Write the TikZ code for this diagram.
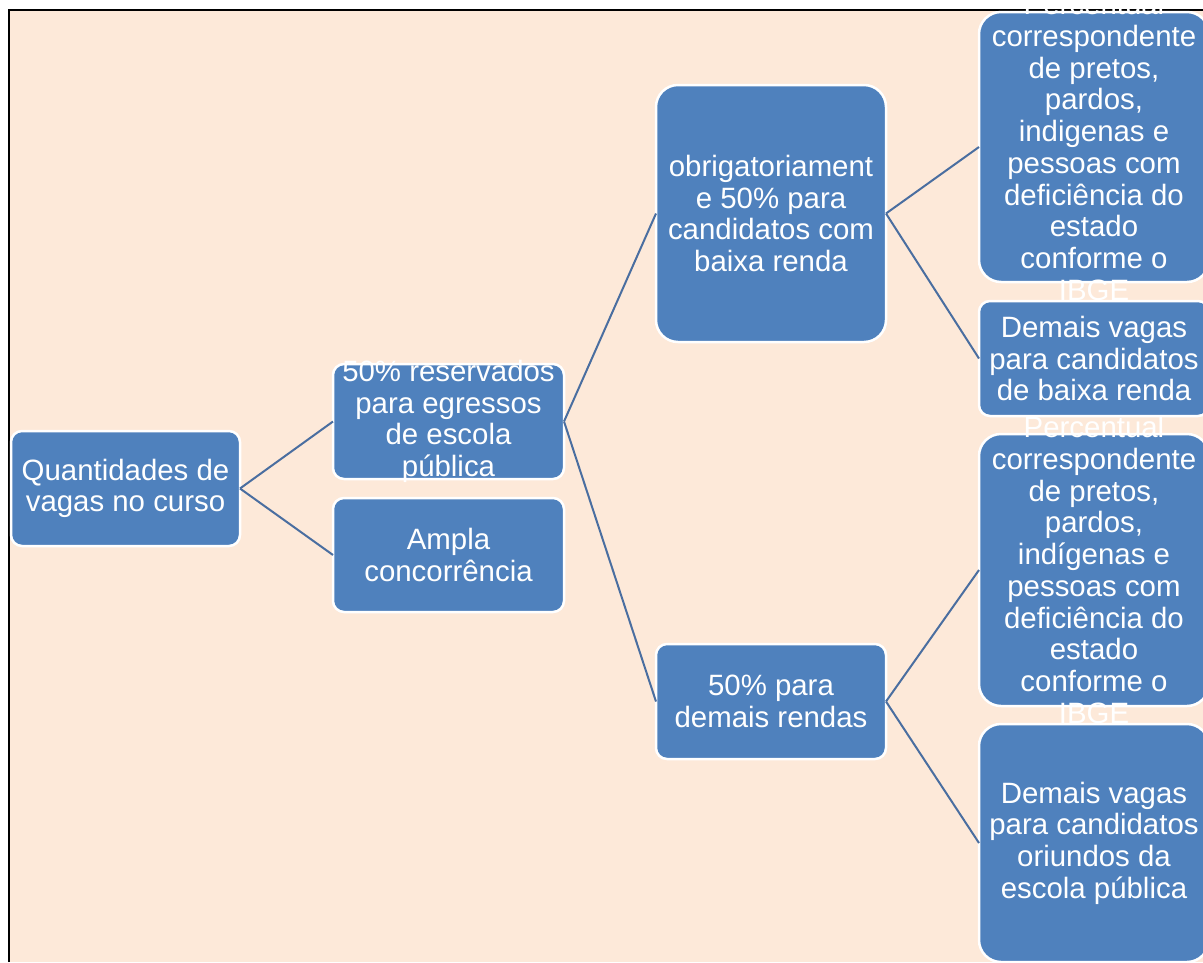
\documentclass[tikz,border=0pt]{standalone}
\usepackage{fontspec}
\setmainfont{Liberation Sans}
\definecolor{peach}{RGB}{253,233,217}
\definecolor{boxblue}{RGB}{79,129,189}
\definecolor{linkblue}{RGB}{74,110,160}
\tikzset{
  box/.style={draw=white, line width=2.5pt, fill=boxblue, rounded corners=11pt, inner sep=0pt, outer sep=0pt},
  tallbox/.style={box, rounded corners=22pt},
  label/.style={text=white, align=center, inner sep=0pt, font=\fontsize{29.4}{31.7}\selectfont},
  link/.style={draw=linkblue, line width=2pt}
}
\begin{document}
\begin{tikzpicture}[x=1pt, y=-1pt]
\useasboundingbox (0,0) rectangle (1203,962);
\fill[white] (0,0) rectangle (1203,962);
\clip (0,0) rectangle (1203,962);
\fill[peach] (9,10) rectangle (1203,962);
\draw[black, line width=1.5pt] (9,962) -- (9,10) -- (1203,10);

\node[box, minimum width=229pt, minimum height=115pt] (A) at (125.5,488.5) {};
\node[box, minimum width=231pt, minimum height=115pt] (B) at (448.5,421.5) {};
\node[box, minimum width=231pt, minimum height=114pt] (C) at (448.5,555) {};
\node[tallbox, minimum width=230pt, minimum height=257pt] (D) at (771,213.5) {};
\node[box, minimum width=230pt, minimum height=115pt] (H) at (771,701.5) {};
\node[tallbox, minimum width=230pt, minimum height=270pt] (E) at (1094,147) {};
\node[box, minimum width=230pt, minimum height=115pt] (F) at (1094,358.5) {};
\node[tallbox, minimum width=230pt, minimum height=272pt] (G) at (1094,570) {};
\node[tallbox, minimum width=230pt, minimum height=238pt] (I) at (1094,843) {};

\draw[link] (A.east) -- (B.west);
\draw[link] (A.east) -- (C.west);
\draw[link] (B.east) -- (D.west);
\draw[link] (B.east) -- (H.west);
\draw[link] (D.east) -- (E.west);
\draw[link] (D.east) -- (F.west);
\draw[link] (H.east) -- (G.west);
\draw[link] (H.east) -- (I.west);

\node[label] (tA) at (A.center) {Quantidades de\\vagas no curso};
\node[label] (tB) at (B.center) {50\% reservados\\para egressos\\de escola\\pública};
\node[label] (tC) at (C.center) {Ampla\\concorrência};
\node[label] (tD) at (D.center) {obrigatoriament\\e 50\% para\\candidatos com\\baixa renda};
\node[label] (tH) at (H.center) {50\% para\\demais rendas};
\node[label] (tE) at (E.center) {Percentual\\correspondente\\de pretos,\\pardos,\\indigenas e\\pessoas com\\deficiência do\\estado\\conforme o\\IBGE};
\node[label] (tF) at (F.center) {Demais vagas\\para candidatos\\de baixa renda};
\node[label] (tG) at (G.center) {Percentual\\correspondente\\de pretos,\\pardos,\\indígenas e\\pessoas com\\deficiência do\\estado\\conforme o\\IBGE};
\node[label] (tI) at (I.center) {Demais vagas\\para candidatos\\oriundos da\\escola pública};
\end{tikzpicture}
\end{document}
